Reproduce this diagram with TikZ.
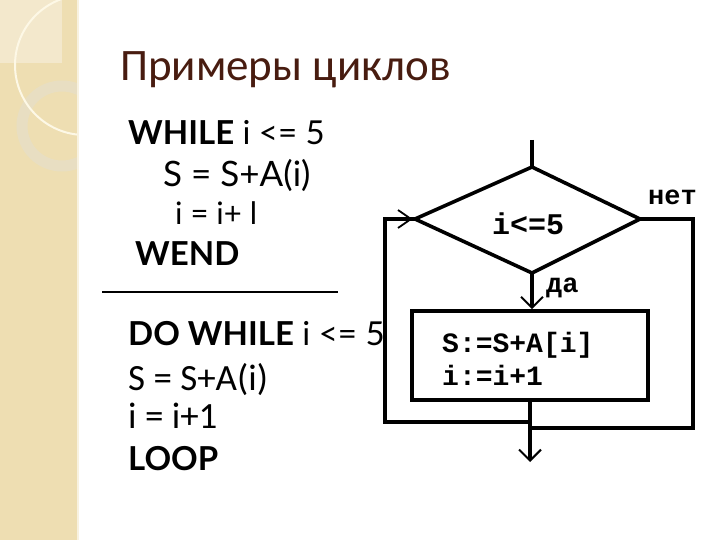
\documentclass[tikz,border=0pt]{standalone}
\usepackage{fontspec}
\setmainfont{Carlito}
\newfontfamily\gill{Lato}
\newfontfamily\cour{Liberation Mono}
\usetikzlibrary{arrows.meta}
\definecolor{beige}{RGB}{238,222,178}
\definecolor{beigelight}{RGB}{243,232,204}
\definecolor{ringcol}{RGB}{232,222,194}
\definecolor{arccol}{RGB}{253,248,230}
\definecolor{titlecol}{RGB}{72,28,16}
\tikzset{
  code/.style={anchor=base west, inner sep=0pt},
  gillf/.style={font=\gill\fontsize{33}{35}\selectfont},
  calf/.style={font=\fontsize{37}{39}\selectfont},
  flow/.style={line width=3.6pt, line join=miter},
  barb/.style={-{Straight Barb[length=11pt,width=22pt,line width=2pt]}},
  mono/.style={inner sep=0pt, font=\cour\fontsize{28}{30}\selectfont}
}
\begin{document}
\begin{tikzpicture}[x=1pt,y=-1pt]
\useasboundingbox (0,0) rectangle (720,540);
\fill[white] (0,0) rectangle (720,540);
% left decorative strip
\fill[beige] (0,0) rectangle (78,540);
\fill[beigelight] (0,0) rectangle (62,63);
\begin{scope}
  \clip (0,0) rectangle (78,540);
  \draw[ringcol, line width=11pt] (62,126) circle[radius=40];
  \draw[arccol, line width=2pt] (85,65) circle[radius=70];
\end{scope}
\draw[white!60!beige, line width=2pt] (78,0) -- (78,540);
% title
\node[code, text=titlecol, font=\fontsize{45}{49}\selectfont] (title) at (120,81) {Примеры циклов};
% WHILE block
\node[code, gillf] (w1) at (128,145) {\textbf{WHILE} i <= 5};
\node[code, font=\gill\fontsize{35}{37}\selectfont] (w2) at (163,187) {S = S+A(i)};
\node[code, font=\gill\fontsize{31}{33}\selectfont] (w3) at (175,225) {i = i+ l};
\node[code, gillf] (w4) at (135,265) {\textbf{WEND}};
\coordinate (s1) at (102,292);
\coordinate (s2) at (338,292);
\draw[line width=2pt] (s1) -- (s2);
% DO WHILE block
\node[code, gillf] (d1) at (128,345) {\textbf{DO WHILE} i <= 5};
\node[code, calf] (d2) at (128,390) {S = S+A(i)};
\node[code, calf] (d3) at (128,428) {i = i+1};
\node[code, gillf] (d4) at (128,470) {\textbf{LOOP}};
% flowchart background
\fill[white] (383,135) rectangle (700,465);
% flowchart
\coordinate (top) at (532,140);
\coordinate (dt) at (532,167);
\coordinate (dl) at (415,219);
\coordinate (dr) at (640,219);
\coordinate (db) at (532,273);
\draw[flow] (dt) -- (dr) -- (db) -- (dl) -- cycle;
\node[mono, font=\cour\bfseries\fontsize{30}{32}\selectfont] (cond) at (528,224) {i<=5};
\draw[flow] (top) -- (dt);
\node[draw, line width=3.6pt, minimum width=236pt, minimum height=89pt, inner sep=0pt] (body) at (530,355.5) {};
\node[mono, anchor=base west, font=\cour\bfseries\fontsize{28}{30}\selectfont] (b1) at (442,352) {S:=S+A[i]};
\node[mono, anchor=base west, font=\cour\bfseries\fontsize{28}{30}\selectfont] (b2) at (442,385) {i:=i+1};
\draw[flow, barb] (db) -- (body.north -| db);
\node[mono, anchor=base west, font=\cour\bfseries\fontsize{27}{29}\selectfont] (yes) at (546,292) {да};
\node[mono, anchor=base west, font=\cour\bfseries\fontsize{27}{29}\selectfont] (no) at (648,205) {нет};
% loop back (left)
\coordinate (lb) at (530,422);
\coordinate (lbl) at (385,422);
\coordinate (ltl) at (385,219);
\draw[flow] (body.south -| lb) -- (lb) -- (lbl) -- (ltl) -- (dl);
\draw[line width=1.8pt] (398,210) -- (411,219) -- (398,228);
% exit (right)
\coordinate (rt) at (693,219);
\coordinate (rb) at (693,428);
\coordinate (rj) at (530,428);
\coordinate (out) at (530,462);
\draw[flow] (dr) -- (rt) -- (rb) -- (rj);
\draw[flow, barb] (lb) -- (out);
\end{tikzpicture}
\end{document}
